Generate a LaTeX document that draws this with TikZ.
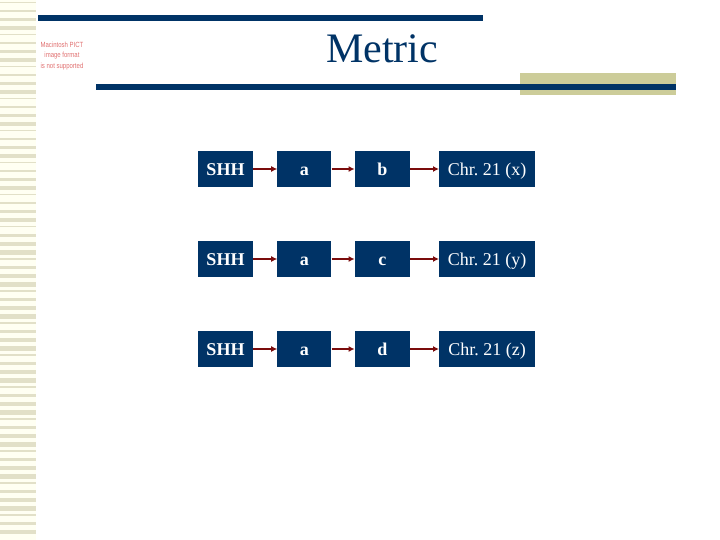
\documentclass[tikz,border=0pt]{standalone}
\usepackage{fontspec}
\setmainfont{Liberation Serif}
\newfontfamily\pictfont{Liberation Sans}
\usetikzlibrary{arrows.meta,positioning}
\definecolor{navy}{HTML}{003366}
\definecolor{khaki}{HTML}{CCCC99}
\definecolor{stripe}{HTML}{E2E0C8}
\definecolor{cream}{HTML}{FFFFF2}
\definecolor{linkred}{HTML}{7B0C0C}
\definecolor{pictred}{HTML}{E07070}
\newcommand{\narrow}[1]{\scalebox{0.8}[1]{#1}}
\tikzstyle{cell}=[fill=navy,text=white,minimum height=36pt,inner sep=0pt,text height=15pt,text depth=2pt,font=\fontsize{18}{20}\selectfont]
\tikzstyle{link}=[linkred,line width=1.6pt,-{Latex[length=6pt,width=6pt]}]

\begin{document}
\begin{tikzpicture}[x=1pt,y=-1pt]
        \useasboundingbox (0,0) rectangle (720,540);
        % left strip
        \fill[cream] (0,0) rectangle (36,540);
        \foreach \i in {0,...,66}
          \fill[stripe] (0,{\i*8+2}) rectangle (36,{\i*8+3.5+mod(\i*5,4)});

        % title bars
        \fill[navy] (38,15.5) rectangle (483,21.5);
        \fill[khaki] (520,73) rectangle (676,95);
        \fill[navy] (96,84) rectangle (676,90);
        \node[text=navy,font=\fontsize{42}{46}\selectfont] (title) at (382,49) {Metric};

        % missing picture note
        \node[text=pictred,align=center,font=\pictfont\fontsize{7.5}{10.5}\selectfont] (pict) at (62,56)
          {\narrow{Macintosh PICT}\\\narrow{image format}\\\narrow{is not supported}};

        %% the rows
        \foreach \r/\k/\v in {1/b/x,2/c/y,3/d/z}
        {
          \node[cell,minimum width=55pt] (shh\r) at (225.5,{79+90*\r}) {\textbf{SHH}};
          \node[cell,minimum width=54pt,right=24pt of shh\r] (a\r) {\textbf{a}};
          \node[cell,minimum width=55pt,right=23pt of a\r] (k\r) {\textbf{\k}};
          \node[cell,minimum width=96pt,right=29pt of k\r] (chr\r) {Chr.~21 (\v)};
          \draw[link] (shh\r) -- (a\r);
          \draw[link] (a\r) -- (k\r);
          \draw[link] (k\r) -- (chr\r);
        }
      \end{tikzpicture}
\end{document}
